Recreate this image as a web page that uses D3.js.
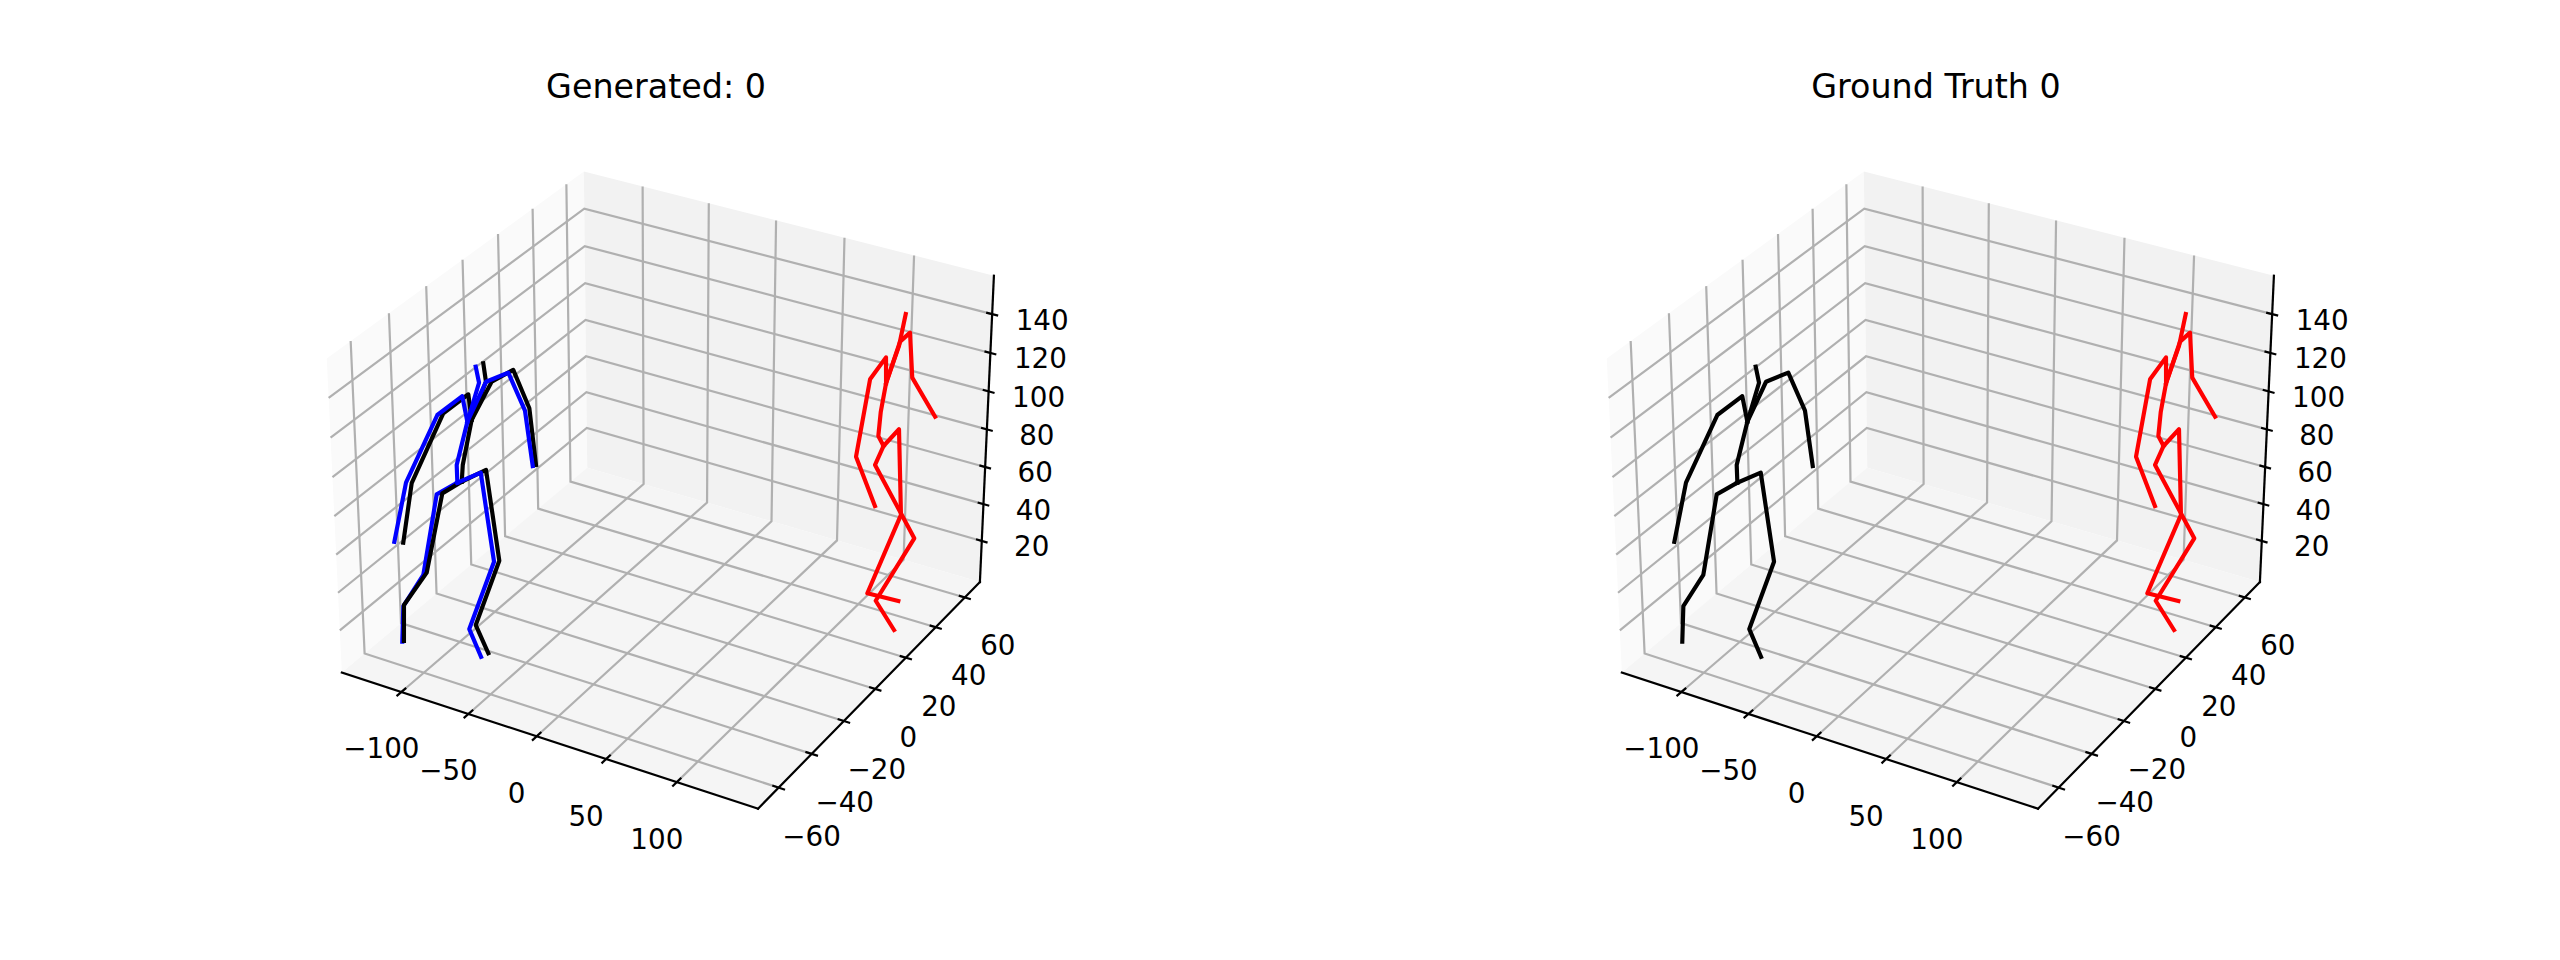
<!DOCTYPE html>
<html><head><meta charset="utf-8"><style>html,body{margin:0;background:#fff}svg{display:block}text{font-family:"DejaVu Sans",sans-serif;fill:#000}</style>
<script src="https://cdn.jsdelivr.net/npm/d3@7"></script></head><body><svg id="chart" width="2560" height="960"></svg>
<script>
// axis limits and ticks
const xLimits=[-145.11,156.35], yLimits=[-72.25,70.55], zLimits=[-2.6,159.58];
const xTicks=[-100,-50,0,50,100], yTicks=[-60,-40,-20,0,20,40,60], zTicks=[20,40,60,80,100,120,140];
const titles=["Generated: 0","Ground Truth 0"];
// view
const elevation=29.96, azimuth=-59.92, boxAspect=[1.1903,1.1903,0.8927], viewDist=10;
const panelWidth=1280;

// skeleton joints as [x, z]; each figure lies at one depth y
const truthDepth=-49;
const truthSpine=[[-69.7,153.7],[-67.6,146.1],[-76.9,124.7],[-85.7,101.0],[-85.6,91.9]];
const truthArmR=[[-76.9,124.7],[-62.5,147.6],[-46.3,155.3],[-34.9,138.7],[-30.1,111.9]];
const truthArmL=[[-76.9,124.7],[-80.1,137.0],[-98.9,123.7],[-124.1,83.9],[-134.7,50.7]];
const truthLegR=[[-85.6,91.9],[-68.1,100.7],[-60.0,56.4],[-79.9,16.3],[-71.6,3.3]];
const truthLegL=[[-85.6,91.9],[-101.3,82.6],[-113.5,37.7],[-129.7,17.5],[-131.6,-2.2]];

const genDepth=-47;
const genSpine=[[-66.9,154.5],[-65.3,145.7],[-76.5,124.2],[-84.0,99.8],[-85.1,91.0]];
const genArmR=[[-76.5,124.2],[-61.1,146.5],[-45.4,155.4],[-34.4,138.5],[-30.4,110.9]];
const genArmL=[[-76.5,124.2],[-78.4,136.8],[-97.2,123.5],[-122.7,82.4],[-130.8,49.5]];
const genLegR=[[-85.1,91.0],[-66.9,100.8],[-58.8,55.6],[-77.7,17.3],[-68.8,4.2]];
const genLegL=[[-85.1,91.0],[-99.9,81.9],[-113.7,37.3],[-132.1,15.9],[-133.2,-3.9]];

const otherDepth=37;
const otherSpine=[[130.4,158.2],[126.5,141.4],[118.3,120.9],[115.2,105.5],[114.0,92.7],[117.9,88.3]];
const otherArmR=[[118.3,120.9],[127.1,143.7],[133.8,149.5],[136.4,127.2],[153.2,110.6]];
const otherArmL=[[118.3,120.9],[117.7,133.9],[107.0,120.6],[98.6,78.7],[113.1,55.7]];
const otherLegR=[[117.9,88.3],[128.4,99.1],[131.8,54.9],[109.5,7.9],[132.0,8.7]];
const otherLegL=[[117.9,88.3],[112.3,77.2],[141.8,44.6],[115.7,5.2],[129.6,-7.7]];

const nx=d3.scaleLinear().domain(xLimits).range([0,boxAspect[0]]);
const ny=d3.scaleLinear().domain(yLimits).range([0,boxAspect[1]]);
const nz=d3.scaleLinear().domain(zLimits).range([0,boxAspect[2]]);
const sx=d3.scaleLinear().domain([0,1]).range([666.74,666.74+4008.69]);
const sy=d3.scaleLinear().domain([0,1]).range([474.81,474.81-4008.69]);

const e=elevation*Math.PI/180,a=azimuth*Math.PI/180;
const w=[Math.cos(e)*Math.cos(a),Math.cos(e)*Math.sin(a),Math.sin(e)];
const vn=Math.hypot(w[0],w[1]);
const v=[-w[1]/vn,w[0]/vn,0];
const u=[w[1]*v[2]-w[2]*v[1],w[2]*v[0]-w[0]*v[2],w[0]*v[1]-w[1]*v[0]];
const eye=boxAspect.map((b,i)=>b/2+viewDist*w[i]);
const dot=(p,q)=>p[0]*q[0]+p[1]*q[1]+p[2]*q[2];
function project(x,y,z){
  const d=[nx(x)-eye[0],ny(y)-eye[1],nz(z)-eye[2]];
  const depth=-dot(d,w);
  return [sx(dot(d,v)/depth),sy(dot(d,u)/depth)];
}
const path=d3.line();
const [x0,x1]=xLimits,[y0,y1]=yLimits,[z0,z1]=zLimits;
const panes=[
 {fill:"#fafafa",c:[[x0,y0,z0],[x0,y1,z0],[x0,y1,z1],[x0,y0,z1]]},
 {fill:"#f2f2f2",c:[[x0,y1,z0],[x1,y1,z0],[x1,y1,z1],[x0,y1,z1]]},
 {fill:"#f5f5f5",c:[[x0,y0,z0],[x1,y0,z0],[x1,y1,z0],[x0,y1,z0]]}
];
const svg=d3.select("#chart");

function drawPanel(index,bones){
  const g=svg.append("g").attr("transform",`translate(${index*panelWidth},0)`);
  g.append("text").attr("x",656).attr("y",98).attr("text-anchor","middle").attr("font-size",33.33).text(titles[index]);
  g.selectAll(".pane").data(panes).join("path").attr("class","pane")
    .attr("d",d=>path(d.c.map(p=>project(...p)))+"Z").attr("fill",d=>d.fill);
  const grid=[
    ...xTicks.map(t=>[[t,y0,z0],[t,y1,z0],[t,y1,z1]]),
    ...yTicks.map(t=>[[x1,t,z0],[x0,t,z0],[x0,t,z1]]),
    ...zTicks.map(t=>[[x0,y0,t],[x0,y1,t],[x1,y1,t]])
  ];
  g.selectAll(".grid").data(grid).join("path").attr("class","grid")
    .attr("d",d=>path(d.map(p=>project(...p)))).attr("fill","none").attr("stroke","#b0b0b0").attr("stroke-width",2.2);
  const edges=[[[x0,y0,z0],[x1,y0,z0]],[[x1,y0,z0],[x1,y1,z0]],[[x1,y1,z0],[x1,y1,z1]]];
  g.selectAll(".edge").data(edges).join("path").attr("class","edge")
    .attr("d",d=>path(d.map(p=>project(...p)))).attr("fill","none").attr("stroke","#000").attr("stroke-width",2.2).attr("stroke-linecap","square");
  const ticks=[
    ...xTicks.map(t=>({a:[t,y0-2.6,z0],b:[t,y0+2.6,z0],c:[t,y0,z0],dx:-20,dy:56.5,t})),
    ...yTicks.map(t=>({a:[x1-4.4,t,z0],b:[x1+4.4,t,z0],c:[x1,t,z0],dx:33,dy:48,t})),
    ...zTicks.map(t=>({a:[x1-4.2,y1,t],b:[x1+4.2,y1,t],c:[x1,y1,t],dx:50,dy:5.5,t}))
  ];
  g.selectAll(".tick").data(ticks).join("path").attr("class","tick")
    .attr("d",d=>path([project(...d.a),project(...d.b)])).attr("stroke","#000").attr("stroke-width",2.2);
  g.selectAll(".lab").data(ticks).join("text").attr("class","lab")
    .attr("x",d=>project(...d.c)[0]+d.dx).attr("y",d=>project(...d.c)[1]+d.dy+10)
    .attr("text-anchor","middle").attr("font-size",27.78)
    .text(d=>String(d.t).replace("-","\u2212"));
  g.selectAll(".bone").data(bones).join("path").attr("class","bone")
    .attr("d",d=>path(d.points.map(p=>project(p[0],d.depth,p[1]))))
    .attr("fill","none").attr("stroke",d=>d.color).attr("stroke-width",4.17)
    .attr("stroke-linecap","square").attr("stroke-linejoin","round");
}
const figure=(list,depth,color)=>list.map(points=>({points,depth,color}));
const other=figure([otherSpine,otherArmR,otherArmL,otherLegR,otherLegL],otherDepth,"#ff0000");
drawPanel(0,[
  ...other,
  ...figure([genSpine,genArmR,genArmL,genLegR],genDepth,"#000000"),
  ...figure([truthLegL],truthDepth,"#0000ff"),
  ...figure([genLegL],genDepth,"#000000"),
  ...figure([truthSpine,truthArmR,truthArmL,truthLegR],truthDepth,"#0000ff")
]);
drawPanel(1,[
  ...other,
  ...figure([truthSpine,truthArmR,truthArmL,truthLegR,truthLegL],truthDepth,"#000000")
]);
</script></body></html>
